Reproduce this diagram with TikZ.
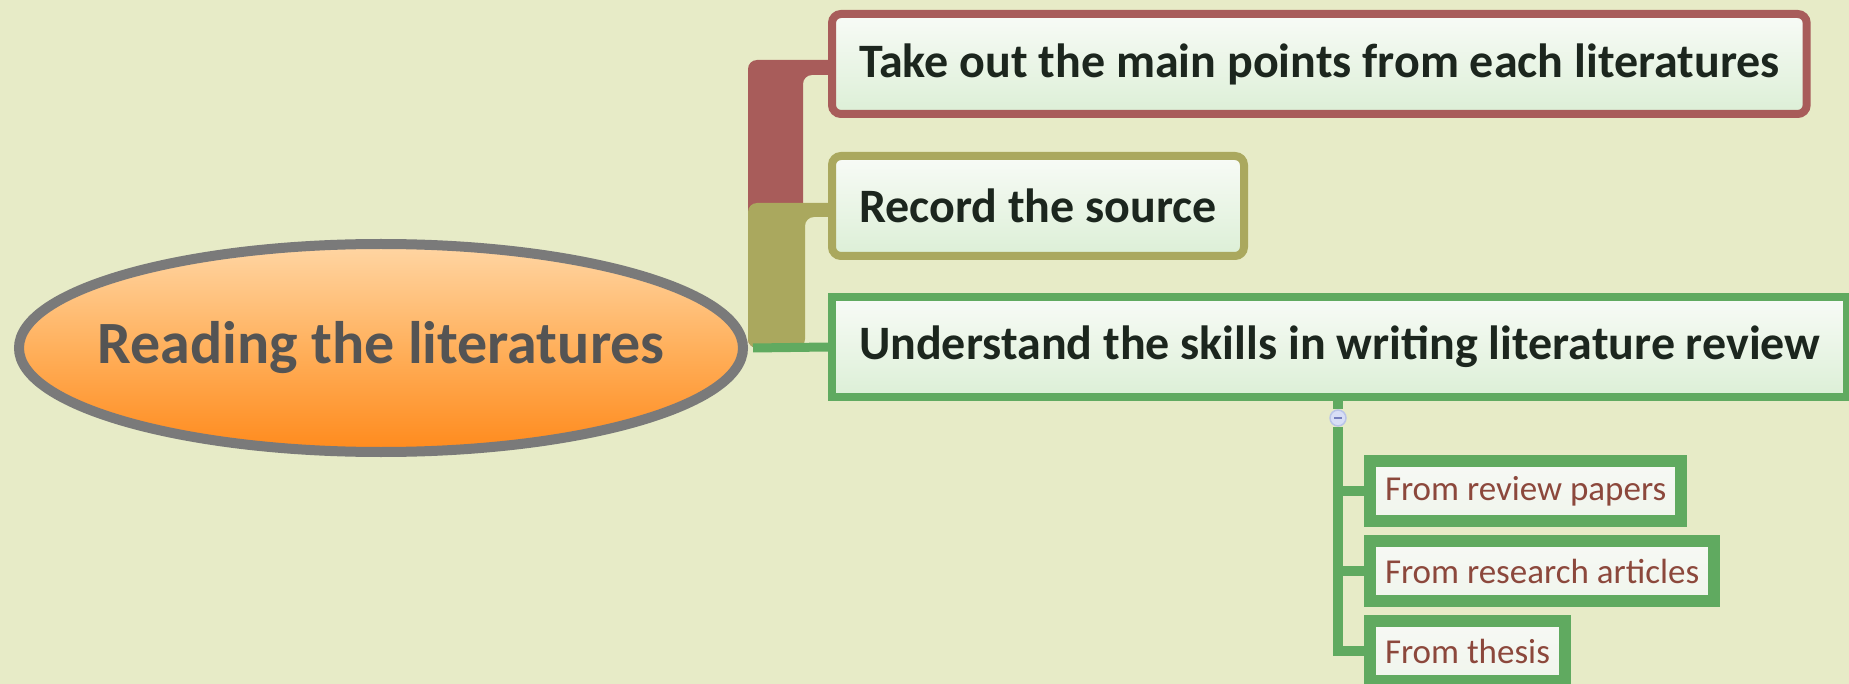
\documentclass[tikz,border=0pt]{standalone}
\usepackage{fontspec}
\setmainfont{Carlito}
\usetikzlibrary{shapes.geometric,calc}

\definecolor{paper}{RGB}{231,235,199}
\definecolor{rosec}{RGB}{168,92,90}
\definecolor{olivec}{RGB}{170,168,94}
\definecolor{greenc}{RGB}{96,170,96}
\definecolor{rootline}{RGB}{122,122,122}
\definecolor{roottext}{RGB}{84,84,84}
\definecolor{boxtext}{RGB}{28,38,30}
\definecolor{leaftext}{RGB}{140,72,60}
\definecolor{boxtop}{RGB}{248,251,247}
\definecolor{boxbot}{RGB}{220,239,214}
\definecolor{knobfill}{RGB}{216,222,246}
\definecolor{knobline}{RGB}{186,196,232}
\definecolor{knobmark}{RGB}{118,128,190}

\pgfdeclarelayer{paperlayer}
\pgfdeclarelayer{links}
\pgfsetlayers{paperlayer,links,main}

\tikzset{
  rootnode/.style={ellipse, draw=rootline, line width=10pt,
    minimum width=724pt, minimum height=208pt, inner xsep=-60pt, inner ysep=0pt,
    top color={rgb,255:red,255;green,214;blue,164},
    bottom color={rgb,255:red,255;green,138;blue,28},
    middle color={rgb,255:red,255;green,176;blue,92},
    text=roottext, font=\fontsize{60}{66}\selectfont\bfseries},
  topic/.style={anchor=west, line width=8pt, minimum height=100pt,
    inner xsep=27pt, inner ysep=0pt,
    top color=boxtop, bottom color=boxbot,
    text=boxtext, font=\fontsize{48}{56}\selectfont\bfseries},
  leaf/.style={anchor=west, draw=greenc, line width=12pt, minimum height=60pt,
    inner xsep=15pt, inner ysep=0pt,
    top color={rgb,255:red,247;green,249;blue,245},
    bottom color={rgb,255:red,240;green,245;blue,236},
    text=leaftext, font=\fontsize{35}{42}\selectfont},
  band/.style={rounded corners=9pt},
  gline/.style={draw=greenc, line width=10pt},
  knob/.style={circle, draw=knobline, line width=1.5pt, fill=knobfill,
    minimum size=16pt, inner sep=0pt,
    path picture={\draw[knobmark, line width=2pt]
      ($(path picture bounding box.center)+(-4pt,0)$) -- ++(8pt,0);}}
}

\begin{document}
\begin{tikzpicture}[x=1pt, y=-1pt]
  \useasboundingbox (0,0) rectangle (1849,684);
  \begin{pgfonlayer}{paperlayer}
    \fill[paper] (0,0) rectangle (1849,684);
  \end{pgfonlayer}

  % central topic
  \node[rootnode] (root) at (381,348) {Reading the literatures};

  % main topics
  \node[topic, draw=rosec, rounded corners=9pt] (n1) at (828,64)
    {Take out the main points from each literatures};
  \node[topic, draw=olivec, rounded corners=9pt] (n2) at (828,206)
    {Record the source};
  \node[topic, draw=greenc] (n3) at (828,347)
    {Understand the skills in writing literature review};

  % sub topics
  \node[leaf] (c1) at (1364,491) {From review papers};
  \node[leaf] (c2) at (1364,571) {From research articles};
  \node[leaf] (c3) at (1364,651) {From thesis};

  % tapered branches from the central topic (their ends tuck under the boxes)
  \begin{pgfonlayer}{links}
    \fill[rosec, band] (root.east) |- ($(n1.west)+(20,-4)$)
      -- ($(n1.west)+(20,11)$) -| ($(root.east)+(55,0)$) -- cycle;
    \fill[olivec, band] (root.east) |- ($(n2.west)+(20,-3)$)
      -- ($(n2.west)+(20,11)$) -| ($(root.east)+(57,0)$) -- cycle;
    \draw[greenc, line width=9pt] ($(root.east)+(5,0)$) -- (n3.west);
  \end{pgfonlayer}

  % collapse knob and sub-topic tree
  \node[knob] (k) at (1338,418) {};
  \begin{pgfonlayer}{links}
    \draw[gline] (k |- n3.south) -- (k);
    \draw[gline] (k) |- (c3.west);
    \draw[gline] (k |- c1.west) -- (c1.west);
    \draw[gline] (k |- c2.west) -- (c2.west);
  \end{pgfonlayer}
\end{tikzpicture}
\end{document}
